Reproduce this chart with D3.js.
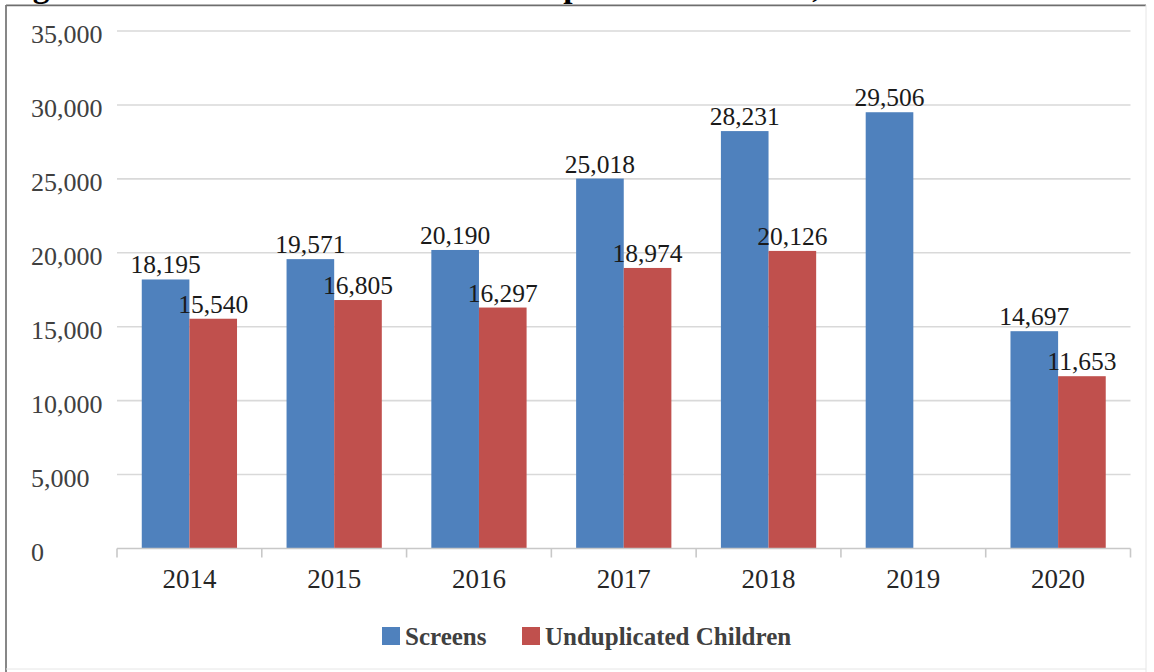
<!DOCTYPE html>
<html>
<head>
<meta charset="utf-8">
<script src="https://cdn.jsdelivr.net/npm/d3@7/dist/d3.min.js"></script>
<style>
  html, body { margin: 0; padding: 0; background: #fff; }
  svg { display: block; }
</style>
</head>
<body>
<svg id="chart" width="1154" height="672"></svg>
<script>
// Chart data
const years = ["2014", "2015", "2016", "2017", "2018", "2019", "2020"];
const screens = [18195, 19571, 20190, 25018, 28231, 29506, 14697];
const unduplicated = [15540, 16805, 16297, 18974, 20126, null, 11653];
const yTicks = [0, 5000, 10000, 15000, 20000, 25000, 30000, 35000];
const seriesNames = ["Screens", "Unduplicated Children"];
const seriesColors = ["#4F81BD", "#C0504D"];
const title = "Figure 1: Number of Screens and Unduplicated Children, 2014-2020";

const svg = d3.select("#chart");
const W = 1154, H = 672;
const serif = "'Liberation Serif', 'Times New Roman', serif";

// Title line (sits above the frame, mostly clipped by the page top)
svg.append("text")
  .attr("x", 3).attr("y", -3)
  .attr("font-family", serif).attr("font-weight", "bold")
  .attr("font-size", 33.4).attr("fill", "#000")
  .text(title);

// Frame
svg.append("line").attr("x1", 6).attr("x2", 1146).attr("y1", 5.3).attr("y2", 5.3)
  .attr("stroke", "#6e6e6e").attr("stroke-width", 1.8);
svg.append("line").attr("x1", 6).attr("x2", 6).attr("y1", 5).attr("y2", H)
  .attr("stroke", "#7a7a7a").attr("stroke-width", 1.8);
svg.append("line").attr("x1", 1146).attr("x2", 1146).attr("y1", 5).attr("y2", H)
  .attr("stroke", "#e6e6e6").attr("stroke-width", 1);
svg.append("line").attr("x1", 6).attr("x2", 1146).attr("y1", 669).attr("y2", 669)
  .attr("stroke", "#e6e6e6").attr("stroke-width", 1);

// Scales
const plotLeft = 117, plotRight = 1130.5;
const x0 = d3.scaleBand().domain(years).range([plotLeft, plotRight]).padding(0);
const x1 = d3.scaleBand().domain(seriesNames)
  .range([0, x0.bandwidth()]).paddingOuter(0.52).paddingInner(0);
const y = d3.scaleLinear().domain([0, 35000]).range([548.5, 31]);

// Gridlines
svg.append("g").selectAll("line").data(yTicks.filter(d => d > 0)).join("line")
  .attr("x1", plotLeft).attr("x2", plotRight)
  .attr("y1", d => y(d)).attr("y2", d => y(d))
  .attr("stroke", "#d9d9d9").attr("stroke-width", 1.6);

// Y-axis labels (left aligned)
svg.append("g").selectAll("text").data(yTicks).join("text")
  .attr("x", 31).attr("y", d => y(d) + 12)
  .attr("font-family", serif).attr("font-size", 26).attr("fill", "#404040")
  .text(d => d3.format(",")(d));

// Bars
const rows = years.map((yr, i) => ({ year: yr, values: [screens[i], unduplicated[i]] }));
const groups = svg.append("g").selectAll("g").data(rows).join("g")
  .attr("transform", d => `translate(${x0(d.year)},0)`);

const cells = d => d.values
  .map((v, k) => ({ name: seriesNames[k], value: v, k }))
  .filter(c => c.value != null);

groups.selectAll("rect").data(cells).join("rect")
  .attr("x", d => x1(d.name)).attr("width", x1.bandwidth())
  .attr("y", d => y(d.value)).attr("height", d => y(0) - y(d.value))
  .attr("fill", d => seriesColors[d.k]);

// Value labels
groups.selectAll("text").data(cells).join("text")
  .attr("x", d => x1(d.name) + x1.bandwidth() / 2)
  .attr("y", d => y(d.value) - 6)
  .attr("text-anchor", "middle")
  .attr("font-family", serif).attr("font-size", 25.5).attr("fill", "#1a1a1a")
  .text(d => d3.format(",")(d.value));

// X axis
const xAxis = svg.append("g");
xAxis.append("line").attr("x1", plotLeft).attr("x2", plotRight)
  .attr("y1", y(0)).attr("y2", y(0)).attr("stroke", "#c8c8c8").attr("stroke-width", 1.6);
const edges = years.map(d => x0(d)).concat([plotRight]);
xAxis.selectAll("line.tick").data(edges).join("line").attr("class", "tick")
  .attr("x1", d => d).attr("x2", d => d)
  .attr("y1", y(0)).attr("y2", y(0) + 9)
  .attr("stroke", "#c8c8c8").attr("stroke-width", 1.6);
xAxis.selectAll("text").data(years).join("text")
  .attr("x", d => x0(d) + x0.bandwidth() / 2).attr("y", 588)
  .attr("text-anchor", "middle")
  .attr("font-family", serif).attr("font-size", 27).attr("fill", "#262626")
  .text(d => d);

// Legend
const legendItems = [
  { name: seriesNames[0], color: seriesColors[0], x: 382 },
  { name: seriesNames[1], color: seriesColors[1], x: 522 }
];
const legend = svg.append("g").selectAll("g").data(legendItems).join("g")
  .attr("transform", d => `translate(${d.x},627)`);
legend.append("rect").attr("width", 18).attr("height", 18).attr("fill", d => d.color);
legend.append("text").attr("x", 23).attr("y", 18)
  .attr("font-family", serif).attr("font-weight", "bold").attr("font-size", 25)
  .attr("fill", "#404040").text(d => d.name);
</script>
</body>
</html>
